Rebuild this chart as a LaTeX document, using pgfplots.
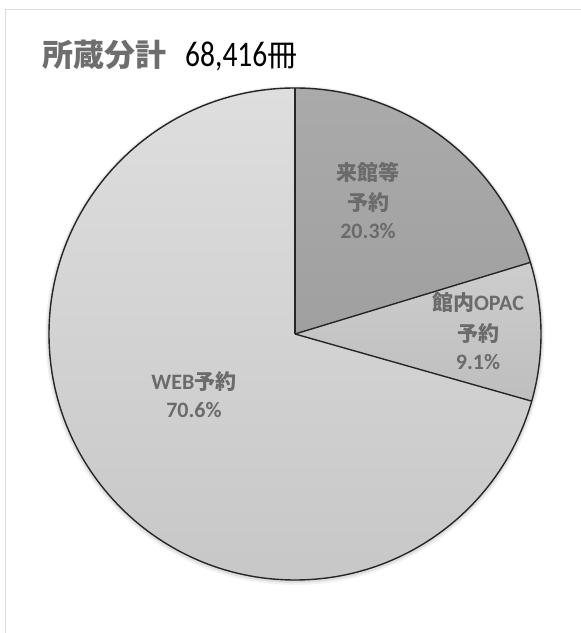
\documentclass[border=0pt]{standalone}
\usepackage{pgfplots}
\pgfplotsset{compat=1.18}
\usepackage{pgfplotstable}
\usepackage{graphicx}
\usepackage{fontspec}
\newfontfamily\cjk{Noto Sans CJK JP}
\newfontfamily\lat{Carlito}
\definecolor{lbl}{HTML}{6B6B6B}
\definecolor{ttl}{HTML}{6E6E6E}
\definecolor{frame}{HTML}{DCDCDC}
\definecolor{edge}{HTML}{262626}

\pgfplotstableread{
label value
raikan 20.3
opac 9.1
web 70.6
}\pietable

\pgfplotstablegetelem{0}{value}\of\pietable \let\va\pgfplotsretval
\pgfplotstablegetelem{1}{value}\of\pietable \let\vb\pgfplotsretval
\pgfplotstablegetelem{2}{value}\of\pietable \let\vc\pgfplotsretval
\pgfmathsetmacro\aZ{90}
\pgfmathsetmacro\aA{90-3.6*\va}
\pgfmathsetmacro\aB{\aA-3.6*\vb}
\pgfmathsetmacro\aC{\aB-3.6*\vc}

\begin{document}
\begin{tikzpicture}
\begin{axis}[at={(0,0)}, anchor=south west, width=581pt, height=633pt,
  scale only axis, xmin=0, xmax=581, ymin=0, ymax=633,
  axis lines=none, clip=false]
% frame
\draw[frame, line width=1pt] (axis cs:5,0) -- (axis cs:5,623) -- (axis cs:581,623);
% soft shadow
\fill[black, opacity=0.05] (axis cs:295,297.5) circle[radius=249.5pt];
\fill[black, opacity=0.08] (axis cs:295,298) circle[radius=248pt];
% slices
\path[fill, top color={rgb,255:red,222;green,222;blue,222}, bottom color={rgb,255:red,198;green,198;blue,198}]
  (axis cs:295,299) -- ++(\aB:246pt) arc[start angle=\aB, end angle=\aC, radius=246pt] -- cycle;
\path[fill, top color={rgb,255:red,170;green,170;blue,170}, bottom color={rgb,255:red,160;green,160;blue,160}]
  (axis cs:295,299) -- ++(\aZ:246pt) arc[start angle=\aZ, end angle=\aA, radius=246pt] -- cycle;
\path[fill, top color={rgb,255:red,205;green,205;blue,205}, bottom color={rgb,255:red,190;green,190;blue,190}]
  (axis cs:295,299) -- ++(\aA:246pt) arc[start angle=\aA, end angle=\aB, radius=246pt] -- cycle;
\draw[edge, line width=1.4pt] (axis cs:295,299) circle[radius=246pt];
\draw[edge, line width=1.4pt] (axis cs:295,299) -- ++(\aZ:246pt);
\draw[edge, line width=1.4pt] (axis cs:295,299) -- ++(\aA:246pt);
\draw[edge, line width=1.4pt] (axis cs:295,299) -- ++(\aB:246pt);
% title
\node[anchor=base west, inner sep=0pt, text=ttl] at (axis cs:42,566) {\cjk\bfseries\fontsize{31}{31}\selectfont 所蔵分計};
\node[anchor=base west, inner sep=0pt, text=black] at (axis cs:185,566) {\scalebox{0.82}[1]{\lat\fontsize{36}{36}\selectfont 68,416}\cjk\fontsize{30}{30}\selectfont 冊};
% labels
\node[text=lbl, inner sep=0pt] at (axis cs:368,461) {\cjk\bfseries\fontsize{21}{21}\selectfont 来館等};
\node[text=lbl, inner sep=0pt] at (axis cs:368,430) {\cjk\bfseries\fontsize{21}{21}\selectfont 予約};
\node[text=lbl, inner sep=0pt] at (axis cs:368,402) {\lat\bfseries\fontsize{22}{22}\selectfont 20.3\%};
\node[text=lbl, inner sep=0pt] at (axis cs:478,330) {\cjk\bfseries\fontsize{21}{21}\selectfont 館内{\lat\bfseries\fontsize{22}{22}\selectfont OPAC}};
\node[text=lbl, inner sep=0pt] at (axis cs:478,299) {\cjk\bfseries\fontsize{21}{21}\selectfont 予約};
\node[text=lbl, inner sep=0pt] at (axis cs:478,271) {\lat\bfseries\fontsize{22}{22}\selectfont 9.1\%};
\node[text=lbl, inner sep=0pt] at (axis cs:194,251) {{\lat\bfseries\fontsize{22}{22}\selectfont WEB}\cjk\bfseries\fontsize{21}{21}\selectfont 予約};
\node[text=lbl, inner sep=0pt] at (axis cs:194,223) {\lat\bfseries\fontsize{22}{22}\selectfont 70.6\%};
\end{axis}
\pgfresetboundingbox
\path[use as bounding box] (0,0) rectangle (581pt,633pt);
\end{tikzpicture}
\end{document}
